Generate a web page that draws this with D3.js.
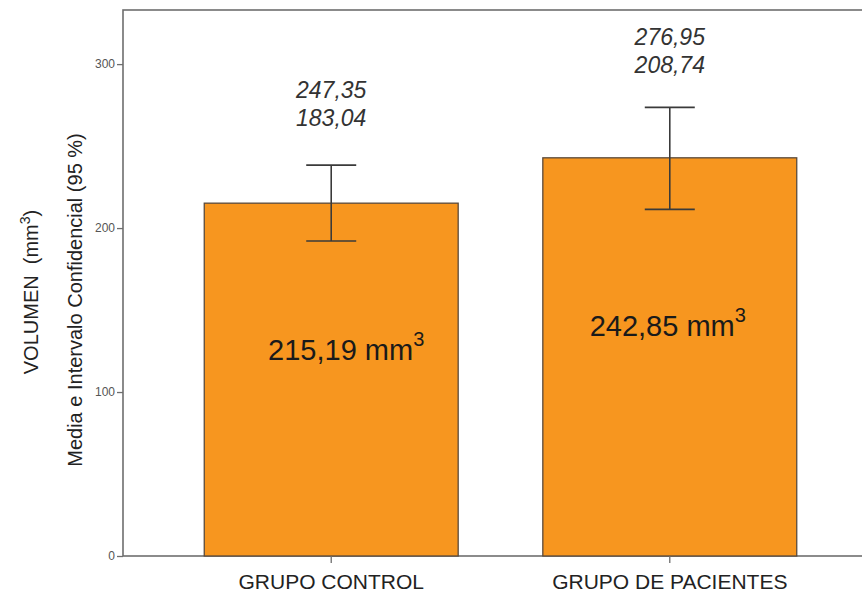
<!DOCTYPE html>
<html>
<head>
<meta charset="utf-8">
<script src="https://cdn.jsdelivr.net/npm/d3@7"></script>
<style>
    body { margin: 0; background: #fff; }
    svg { display: block; font-family: "Liberation Sans", Arial, sans-serif; }
</style>
</head>
<body>
<svg id="chart" width="862" height="601"></svg>
<script>
    var groups = ['GRUPO CONTROL', 'GRUPO DE PACIENTES'];
    var means = [215.19, 242.85];
    var ciLow = [192.1, 211.4];      // drawn whisker ends
    var ciHigh = [238.4, 273.6];
    var ciLabelHigh = ['247,35', '276,95'];
    var ciLabelLow = ['183,04', '208,74'];
    var meanLabels = ['215,19', '242,85'];
    var yTicks = [0, 100, 200, 300];

    var svg = d3.select("#chart"),
        plotLeft = 123, plotTop = 10, plotBottom = 556, plotRight = 878;

    var x = d3.scaleBand()
        .domain(groups)
        .range([plotLeft, plotRight])
        .paddingInner(0.25)
        .paddingOuter(0.24);

    var y = d3.scaleLinear()
        .domain([0, 333])
        .range([plotBottom, plotTop]);

    // frame
    svg.append("rect")
        .attr("x", plotLeft).attr("y", plotTop)
        .attr("width", plotRight - plotLeft).attr("height", plotBottom - plotTop)
        .attr("fill", "none").attr("stroke", "#6e6e6e").attr("stroke-width", 1.6);

    // bars
    svg.append("g").selectAll("rect")
        .data(groups)
        .enter().append("rect")
        .attr("x", function(d) { return x(d); })
        .attr("y", function(d, i) { return y(means[i]); })
        .attr("width", x.bandwidth())
        .attr("height", function(d, i) { return y(0) - y(means[i]); })
        .attr("fill", "#f7961f")
        .attr("stroke", "#5a4a3c")
        .attr("stroke-width", 1.3);

    // error bars
    var eb = svg.append("g").selectAll("g")
        .data(groups)
        .enter().append("g")
        .attr("stroke", "#3a3a3a")
        .attr("stroke-width", 1.6);
    eb.append("line")
        .attr("x1", function(d) { return x(d) + x.bandwidth() / 2; })
        .attr("x2", function(d) { return x(d) + x.bandwidth() / 2; })
        .attr("y1", function(d, i) { return y(ciLow[i]); })
        .attr("y2", function(d, i) { return y(ciHigh[i]); });
    [ciLow, ciHigh].forEach(function(arr) {
        eb.append("line")
            .attr("x1", function(d) { return x(d) + x.bandwidth() / 2 - 25; })
            .attr("x2", function(d) { return x(d) + x.bandwidth() / 2 + 25; })
            .attr("y1", function(d, i) { return y(arr[i]); })
            .attr("y2", function(d, i) { return y(arr[i]); });
    });

    // y axis
    var yAxis = svg.append("g")
        .attr("transform", "translate(" + plotLeft + ",0)")
        .call(d3.axisLeft(y).tickValues(yTicks).tickSize(6).tickPadding(2));
    yAxis.select(".domain").remove();
    yAxis.selectAll("line").attr("stroke", "#6e6e6e").attr("stroke-width", 1.3);
    yAxis.selectAll("text").attr("fill", "#555").style("font-size", "12px")
        .style("font-family", "'Liberation Sans', Arial, sans-serif");

    // x axis
    var xAxis = svg.append("g")
        .attr("transform", "translate(0," + plotBottom + ")")
        .call(d3.axisBottom(x).tickSize(7).tickPadding(11));
    xAxis.select(".domain").remove();
    xAxis.selectAll("line").attr("stroke", "#6e6e6e").attr("stroke-width", 1.3);
    xAxis.selectAll("text").attr("fill", "#222").style("font-size", "21px")
        .style("font-family", "'Liberation Sans', Arial, sans-serif");

    // axis titles
    var t1 = svg.append("text")
        .attr("transform", "translate(38,292) rotate(-90)")
        .attr("text-anchor", "middle")
        .attr("fill", "#222")
        .style("white-space", "pre")
        .style("font-size", "20px");
    t1.append("tspan").text("VOLUMEN  (mm");
    t1.append("tspan").attr("dy", -8).style("font-size", "14px").text("3");
    t1.append("tspan").attr("dy", 8).text(")");

    svg.append("text")
        .attr("transform", "translate(82,300) rotate(-90)")
        .attr("text-anchor", "middle")
        .attr("fill", "#222")
        .style("font-size", "20px")
        .text("Media e Intervalo Confidencial (95 %)");

    // CI labels above bars
    var ciOffsets = [[-67, -39], [-62, -34]];
    svg.append("g").selectAll("g")
        .data(groups)
        .enter().append("g")
        .each(function(d, i) {
            var g = d3.select(this);
            var cx = x(d) + x.bandwidth() / 2;
            g.append("text")
                .attr("x", cx).attr("y", y(ciHigh[i]) + ciOffsets[i][0])
                .attr("text-anchor", "middle")
                .attr("fill", "#333")
                .style("font-size", "23px").style("font-style", "italic")
                .text(ciLabelHigh[i]);
            g.append("text")
                .attr("x", cx).attr("y", y(ciHigh[i]) + ciOffsets[i][1])
                .attr("text-anchor", "middle")
                .attr("fill", "#333")
                .style("font-size", "23px").style("font-style", "italic")
                .text(ciLabelLow[i]);
        });

    // mean labels inside bars
    var meanY = [360, 336];
    var meanDx = [15, -2];
    svg.append("g").selectAll("text")
        .data(groups)
        .enter().append("text")
        .attr("x", function(d, i) { return x(d) + x.bandwidth() / 2 + meanDx[i]; })
        .attr("y", function(d, i) { return meanY[i]; })
        .attr("text-anchor", "middle")
        .attr("fill", "#1a1a1a")
        .style("font-size", "29px")
        .each(function(d, i) {
            var t = d3.select(this);
            t.append("tspan").text(meanLabels[i] + " mm");
            t.append("tspan").attr("dy", -14).style("font-size", "20px").text("3");
        });
</script>
</body>
</html>
